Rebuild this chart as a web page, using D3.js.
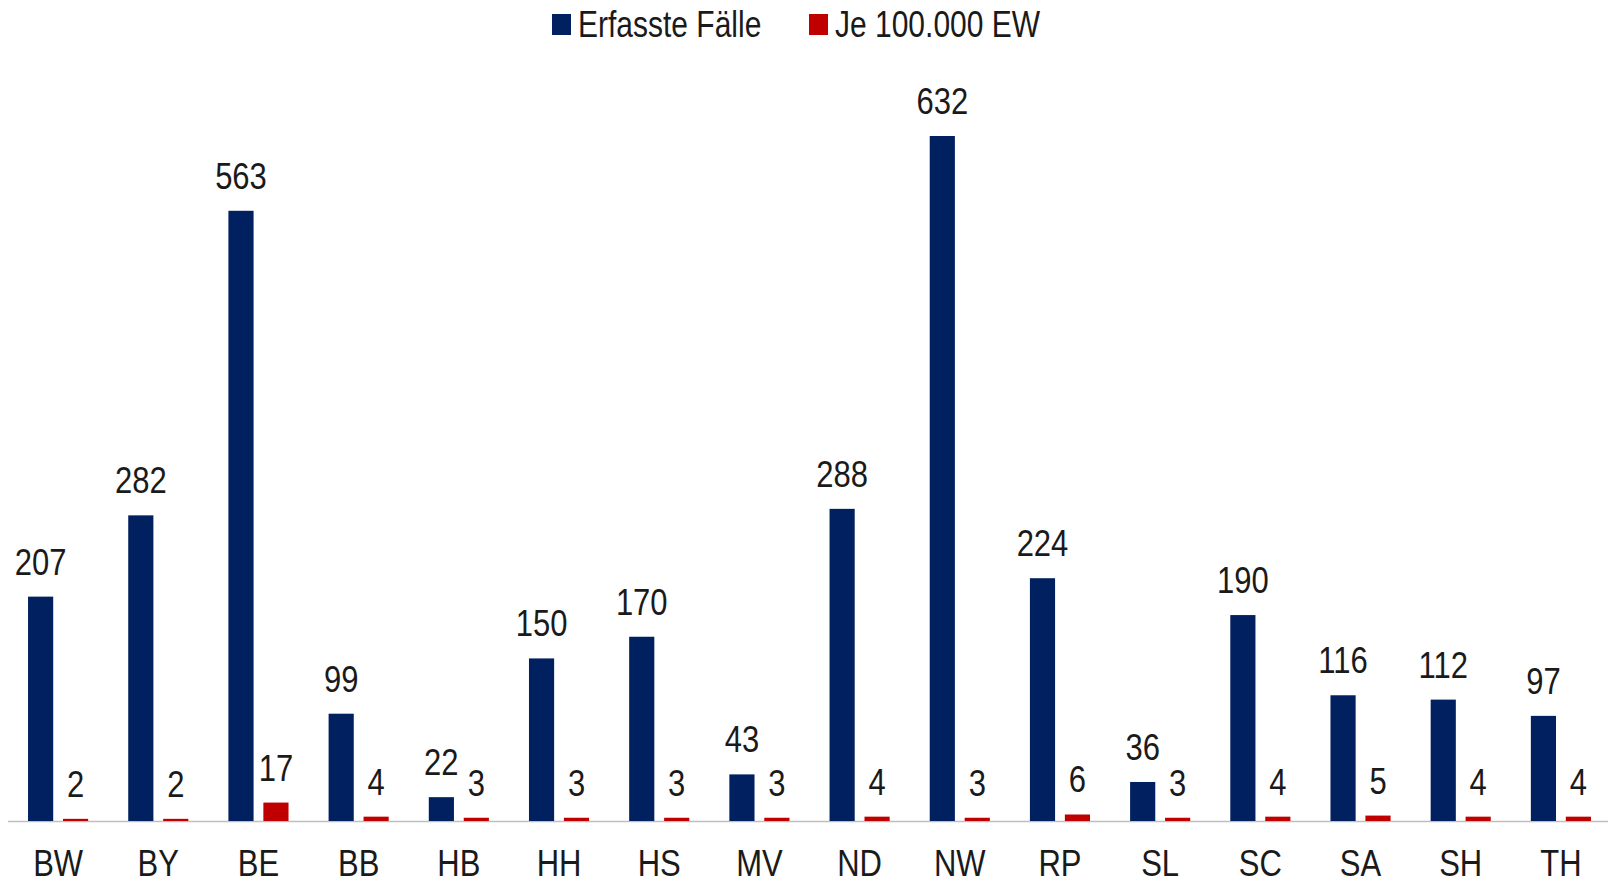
<!DOCTYPE html>
<html>
<head>
<meta charset="utf-8">
<script src="https://cdn.jsdelivr.net/npm/d3@7"></script>
<style>
  body { margin: 0; background: #fff; }
  text { font-family: "Liberation Sans", Arial, sans-serif; fill: #1a1a1a; }
</style>
</head>
<body>
<div id="chart"></div>
<script>
var svgWidth = 1608;
var svgHeight = 885;

// data
var states = ["BW", "BY", "BE", "BB", "HB", "HH", "HS", "MV", "ND", "NW", "RP", "SL", "SC", "SA", "SH", "TH"];
var erfasst = [207, 282, 563, 99, 22, 150, 170, 43, 288, 632, 224, 36, 190, 116, 112, 97];
var je100k = [2, 2, 17, 4, 3, 3, 3, 3, 4, 3, 6, 3, 4, 5, 4, 4];
var seriesNames = ["Erfasste Fälle", "Je 100.000 EW"];
var colors = ["#002060", "#C00000"];

var baseY = 821;
var stretch = 1.2; // text in the picture looks vertically stretched

var svg = d3.select("#chart")
  .append("svg")
  .attr("width", svgWidth)
  .attr("height", svgHeight);

var x0 = d3.scaleBand()
  .domain(states)
  .range([8, 1611])
  .paddingInner(0.4)
  .paddingOuter(0.2);

var x1 = d3.scaleBand()
  .domain([0, 1])
  .range([0, x0.bandwidth()])
  .paddingInner(0.28);

var yScale = d3.scaleLinear()
  .domain([0, 632])
  .range([baseY, 136]);

var rows = states.map(function(s, i) {
  return { state: s, vals: [erfasst[i], je100k[i]] };
});

// axis line
svg.append("line")
  .attr("x1", 8)
  .attr("x2", svgWidth)
  .attr("y1", baseY + 0.5)
  .attr("y2", baseY + 0.5)
  .attr("stroke", "#bfbfbf")
  .attr("stroke-width", 1.5);

var groups = svg.selectAll(".grp")
  .data(rows)
  .enter()
  .append("g")
  .attr("class", "grp")
  .attr("transform", function(d) { return "translate(" + x0(d.state) + ",0)"; });

groups.selectAll("rect")
  .data(function(d) { return d.vals.map(function(v, k) { return { k: k, v: v }; }); })
  .enter()
  .append("rect")
  .attr("x", function(d) { return x1(d.k); })
  .attr("width", x1.bandwidth())
  .attr("y", function(d) { return yScale(d.v); })
  .attr("height", function(d) { return baseY - yScale(d.v); })
  .attr("fill", function(d) { return colors[d.k]; });

// value labels
groups.selectAll(".val")
  .data(function(d) { return d.vals.map(function(v, k) { return { k: k, v: v }; }); })
  .enter()
  .append("text")
  .attr("class", "val")
  .attr("transform", function(d) {
    return "translate(" + (x1(d.k) + x1.bandwidth() / 2) + "," + (yScale(d.v) - 22) + ") scale(1," + stretch + ")";
  })
  .attr("text-anchor", "middle")
  .style("font-size", "31px")
  .text(function(d) { return d.v; });

// category labels
svg.selectAll(".cat")
  .data(states)
  .enter()
  .append("text")
  .attr("class", "cat")
  .attr("transform", function(d) {
    return "translate(" + (x0(d) + x0.bandwidth() / 2) + ",876) scale(1," + stretch + ")";
  })
  .attr("text-anchor", "middle")
  .style("font-size", "31px")
  .text(function(d) { return d; });

// legend
var legendX = [552, 809];
var legend = svg.selectAll(".leg")
  .data(seriesNames)
  .enter()
  .append("g")
  .attr("class", "leg")
  .attr("transform", function(d, i) { return "translate(" + legendX[i] + ",0)"; });

legend.append("rect")
  .attr("x", 0)
  .attr("y", 14)
  .attr("width", 19)
  .attr("height", 21)
  .attr("fill", function(d, i) { return colors[i]; });

legend.append("text")
  .attr("transform", "translate(26,37) scale(1," + stretch + ")")
  .style("font-size", "30px")
  .text(function(d) { return d; });
</script>
</body>
</html>
